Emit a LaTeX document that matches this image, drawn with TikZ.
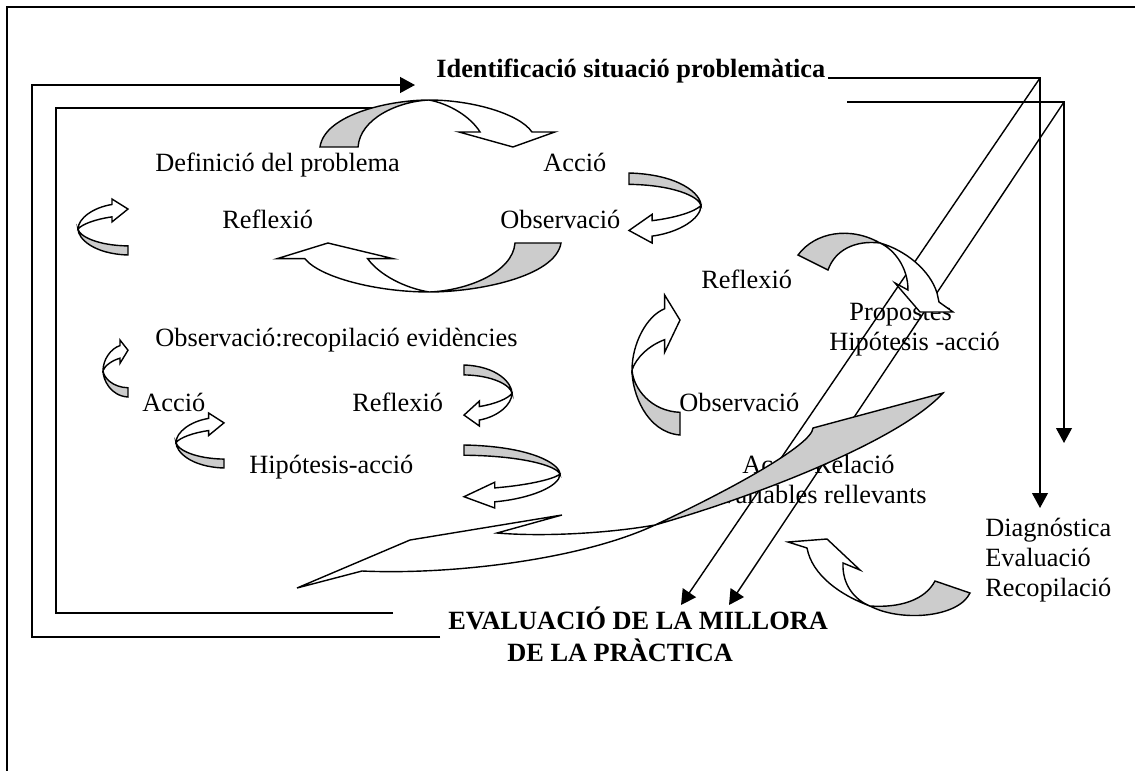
\documentclass[tikz,border=0pt]{standalone}
\usepackage{fontspec}
\setmainfont{Liberation Serif}
\usetikzlibrary{arrows.meta}
\definecolor{ribgray}{RGB}{204,204,204}

\newcommand{\ribbonarrow}{%
  \filldraw[fill=ribgray] (0,1) .. controls (0.02,0.3) and (0.3,0) .. (0.464,0)
    .. controls (0.33,0.03) and (0.17,0.4) .. (0.162,1) -- cycle;
  \filldraw[fill=white] (0.464,0) .. controls (0.65,0) and (0.85,0.3) .. (0.902,0.68)
    -- (1,0.68) -- (0.821,1) -- (0.591,0.68) -- (0.681,0.68)
    .. controls (0.64,0.35) and (0.55,0.08) .. (0.464,0) -- cycle;}

\begin{document}
\begin{tikzpicture}[x=0.02cm, y=-0.02cm,
    flow/.style={-{Triangle[length=8.5pt,width=9pt]}},
    back/.style={fill=ribgray}, front/.style={fill=white}]
        \useasboundingbox (0,0) rectangle (1135,771);
        \draw[line width=1.2pt] (1135,7) -- (7,7) -- (7,771);
        \begin{scope}[every node/.style={font=\fontsize{15}{17}\selectfont, inner sep=0pt, anchor=base west}]
                \node (T) at (436,77) {\textbf{Identificació situació problemàtica}};
                \node (Df) at (155,171) {Definició del problema};
                \node (A1) at (543,171) {Acció};
                \node (R1) at (222,228) {Reflexió};
                \node (O1) at (500,228) {Observació};
                \node (R2) at (701,288) {Reflexió};
                \node (Pr) at (849,320) {Propostes};
                \node (H2) at (829,350) {Hipótesis -acció};
                \node (O2) at (155,346) {Observació:recopilació evidències};
                \node (A2) at (142,411) {Acció};
                \node (R3) at (352,411) {Reflexió};
                \node (O3) at (679,411) {Observació};
                \node (H1) at (249,473) {Hipótesis-acció};
                \node (AR) at (742,473) {Acció-Relació};
                \node [anchor=base east] (VR) at (927,503) {variables rellevants};
                \node (Dg) at (985,536) {Diagnóstica};
                \node (Ev) at (985,566) {Evaluació};
                \node (Rc) at (985,596) {Recopilació};
                \node (E) at (448,629) {\textbf{EVALUACIÓ DE LA MILLORA}};
                \node (P) at (507,661) {\textbf{DE LA PRÀCTICA}};
        \end{scope}
        \coordinate (e1) at (440,637); \coordinate (e2) at (32,637);
        \coordinate (e3) at (32,85); \coordinate (t1) at (415,85);
        \coordinate (f1) at (393,613); \coordinate (f2) at (56,613);
        \coordinate (f3) at (56,108); \coordinate (f4) at (374,108);
        \coordinate (r1) at (828,78); \coordinate (r2) at (1040,78); \coordinate (d1) at (1040,508);
        \coordinate (r3) at (847,102); \coordinate (r4) at (1064,102); \coordinate (d2) at (1064,443);
        \coordinate (v1) at (681,605); \coordinate (v2) at (729,605);
        \begin{scope}[line width=1pt]
                \draw[flow] (e1) -- (e2) -- (e3) -- (t1);
                \draw (f1) -- (f2) -- (f3) -- (f4);
        \end{scope}
        \begin{scope}[line width=0.8pt]
                \draw[flow] (r1) -- (r2) -- (d1);
                \draw[flow] (r3) -- (r4) -- (d2);
                \draw[flow] (r2) -- (v1);
                \draw[flow] (r4) -- (v2);
        \end{scope}
        \begin{scope}[line width=0.8pt]
                \begin{scope}[shift={(320,100)}, x={(4.70cm,0cm)}, y={(0cm,-0.94cm)}] \ribbonarrow \end{scope}
                \begin{scope}[shift={(561,292)}, x={(-5.68cm,0cm)}, y={(0cm,0.98cm)}] \ribbonarrow \end{scope}
                \begin{scope}[shift={(701,173)}, x={(0cm,-1.40cm)}, y={(-1.44cm,0cm)}] \ribbonarrow \end{scope}
                \begin{scope}[shift={(78,255)}, x={(0cm,1.12cm)}, y={(1.00cm,0cm)}] \ribbonarrow \end{scope}
                \begin{scope}[shift={(103,397)}, x={(0cm,1.14cm)}, y={(0.50cm,0cm)}] \ribbonarrow \end{scope}
                \begin{scope}[shift={(176,468)}, x={(0cm,1.10cm)}, y={(0.96cm,0cm)}] \ribbonarrow \end{scope}
                \begin{scope}[shift={(512,365)}, x={(0cm,-1.22cm)}, y={(-0.96cm,0cm)}] \ribbonarrow \end{scope}
                \begin{scope}[shift={(632,435)}, x={(0cm,2.80cm)}, y={(0.96cm,0cm)}] \ribbonarrow \end{scope}
                \begin{scope}[shift={(560,445)}, x={(0cm,-1.26cm)}, y={(-1.92cm,0cm)}] \ribbonarrow \end{scope}
                \filldraw[back] (798,255) .. controls (815,232) and (850,226) .. (880,243)
                        .. controls (855,240) and (835,250) .. (828,270) -- cycle;
                \filldraw[front] (880,243) .. controls (905,250) and (930,270) .. (937,293)
                        -- (939,302) -- (953,312) -- (920,312) -- (895,283) -- (908,290)
                        .. controls (908,268) and (895,250) .. (880,243) -- cycle;
                \filldraw[back] (943,393) -- (813,428) .. controls (812,445) and (730,490) .. (655,525)
                        .. controls (760,495) and (900,440) .. (943,393) -- cycle;
                \filldraw[front] (655,525) .. controls (610,533) and (545,537) .. (497,533)
                        -- (562,515) -- (410,540) -- (297,588) -- (362,571)
                        .. controls (450,575) and (580,560) .. (655,525) -- cycle;
                \filldraw[back] (935,581) -- (970,593) .. controls (958,618) and (900,622) .. (870,606)
                        .. controls (900,608) and (925,600) .. (935,581) -- cycle;
                \filldraw[front] (870,606) .. controls (840,595) and (812,575) .. (807,548)
                        -- (788,542) -- (827,539) -- (860,570) -- (843,563)
                        .. controls (842,585) and (855,600) .. (870,606) -- cycle;
        \end{scope}
\end{tikzpicture}
\end{document}
